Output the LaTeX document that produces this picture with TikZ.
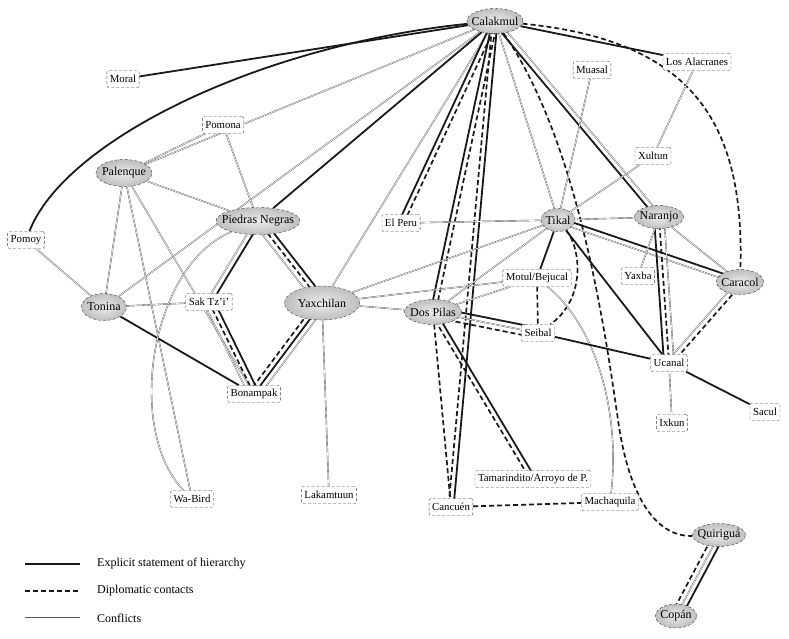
\documentclass[tikz,border=0pt]{standalone}
\usepackage{fontspec}
\setmainfont{Liberation Serif}
\usetikzlibrary{calc,backgrounds,shapes.geometric}
\newcommand{\pedge}[4]{\draw[#1] ($(#2)!#4!90:(#3)$) -- ($(#3)!#4!-90:(#2)$);}
\begin{document}
\begin{tikzpicture}[x=1pt,y=-1pt,
 major/.style={ellipse, draw=gray!50!black, densely dashed, line width=0.4pt, inner color=gray!15, outer color=gray!50, inner sep=0pt},
 majl/.style={font=\fontsize{12}{13}\selectfont, text=black, inner sep=0pt},
 minor/.style={rectangle, rounded corners=2pt, draw=gray!50!black, densely dashed, line width=0.4pt, fill=white, inner xsep=3pt, inner ysep=1pt, minimum height=17pt, font=\fontsize{10.8}{12}\selectfont, text=black},
 hier/.style={line width=1.8pt, draw=black!90},
 dipl/.style={line width=1.7pt, draw=black!90, dash pattern=on 5pt off 3pt},
 confl/.style={line width=0.4pt, draw=gray!70!black, double=white, double distance=0.6pt},
 legt/.style={font=\fontsize{12}{14}\selectfont, text=black, anchor=west, inner sep=0pt},
]
\useasboundingbox (0,0) rectangle (789,639);
% major polities
\node[major, minimum width=56pt, minimum height=25pt, label={[majl]center:Calakmul}] (cal) at (495,21) {};
\node[major, minimum width=56pt, minimum height=27pt, label={[majl]center:Palenque}] (pal) at (124,173) {};
\node[major, minimum width=84pt, minimum height=27pt, label={[majl]center:Piedras Negras}] (pn) at (258,221) {};
\node[major, minimum width=45pt, minimum height=27pt, label={[majl]center:Tonina}] (ton) at (104,307) {};
\node[major, minimum width=75pt, minimum height=34pt, label={[majl]center:Yaxchilan}] (yax) at (322,303) {};
\node[major, minimum width=34pt, minimum height=23pt, label={[majl]center:Tikal}] (tik) at (558,220) {};
\node[major, minimum width=49pt, minimum height=23pt, label={[majl]center:Naranjo}] (nar) at (659,217) {};
\node[major, minimum width=47pt, minimum height=25pt, label={[majl]center:Caracol}] (car) at (740,282) {};
\node[major, minimum width=57pt, minimum height=25pt, label={[majl]center:Dos Pilas}] (dp) at (433,312) {};
\node[major, minimum width=53pt, minimum height=23pt, label={[majl]center:Quiriguá}] (qui) at (719,535) {};
\node[major, minimum width=41pt, minimum height=24pt, label={[majl]center:Copán}] (cop) at (676,616) {};
% minor polities
\node[minor] (moral) at (123,79) {Moral};
\node[minor] (pom) at (223,125) {Pomona};
\node[minor] (pomoy) at (26,240) {Pomoy};
\node[minor] (sak) at (209,302) {Sak Tz'i'};
\node[minor] (bon) at (254,394) {Bonampak};
\node[minor] (wab) at (192,499) {Wa-Bird};
\node[minor] (lak) at (329,495) {Lakamtuun};
\node[minor] (elp) at (401,223) {El Peru};
\node[minor] (mot) at (537,278) {Motul/Bejucal};
\node[minor] (sei) at (538,333) {Seibal};
\node[minor] (uca) at (669,363) {Ucanal};
\node[minor] (yxb) at (638,276) {Yaxba};
\node[minor] (sac) at (765,412) {Sacul};
\node[minor] (ixk) at (672,423) {Ixkun};
\node[minor] (mua) at (592,70) {Muasal};
\node[minor] (alac) at (697,62) {Los Alacranes};
\node[minor] (xul) at (653,156) {Xultun};
\node[minor] (tam) at (533,479) {Tamarindito/Arroyo de P.};
\node[minor] (canc) at (451,507) {Cancuén};
\node[minor] (mach) at (610,502) {Machaquila};
% legend
\coordinate (lg1a) at (25,564); \coordinate (lg1b) at (80,564);
\coordinate (lg2a) at (25,591); \coordinate (lg2b) at (80,591);
\coordinate (lg3a) at (25,618); \coordinate (lg3b) at (80,618);
\node[legt] (lgt1) at (97,564) {Explicit statement of hierarchy};
\node[legt] (lgt2) at (97,591) {Diplomatic contacts};
\node[legt] (lgt3) at (97,618) {Conflicts};
\begin{pgfonlayer}{background}
\fill[white] (0,0) rectangle (789,639);
\draw[hier, line width=1.4pt] (lg1a) -- (lg1b);
\draw[dipl, line width=1.4pt] (lg2a) -- (lg2b);
\draw[confl] (lg3a) -- (lg3b);
% Calakmul
\draw[hier] (cal) -- (moral);
\draw[hier] (cal) .. controls (260,45) and (65,140) .. (pomoy);
\draw[confl] (cal) -- (pal);
\draw[confl] (cal) -- (ton);
\draw[hier] (cal) -- (pn);
\draw[confl] (cal) -- (yax);
\pedge{hier}{cal}{elp}{-2.5pt}
\pedge{dipl}{cal}{elp}{2.5pt}
\pedge{hier}{cal}{dp}{-2.5pt}
\pedge{dipl}{cal}{dp}{2.5pt}
\pedge{dipl}{cal}{canc}{-2.5pt}
\pedge{hier}{cal}{canc}{2.5pt}
\draw[confl] (cal) -- (tik);
\draw[dipl] (cal) .. controls (578,140) and (605,330) .. (618,420) .. controls (630,505) and (660,537) .. (qui);
\pedge{hier}{cal}{nar}{-2.5pt}
\pedge{confl}{cal}{nar}{2.5pt}
\draw[hier] (cal) -- (alac);
\draw[dipl] (cal) .. controls (690,40) and (745,120) .. (car);
% west
\draw[confl] (pal) -- (pom);
\draw[confl] (pal) -- (pn);
\draw[confl] (pal) -- (ton);
\draw[confl] (pal) -- (wab);
\draw[confl] (pal) -- (bon);
\draw[confl] (pom) -- (pn);
\draw[confl] (pomoy) -- (ton);
\draw[confl] (ton) -- (sak);
\draw[hier] (ton) -- (bon);
\pedge{hier}{pn}{sak}{2.5pt}
\pedge{confl}{pn}{sak}{-2.5pt}
\pedge{hier}{sak}{bon}{5pt}
\pedge{dipl}{sak}{bon}{0pt}
\pedge{confl}{sak}{bon}{-5pt}
\draw[confl] (pn) .. controls (150,265) and (125,430) .. (wab);
\pedge{hier}{pn}{yax}{5pt}
\pedge{dipl}{pn}{yax}{0pt}
\pedge{confl}{pn}{yax}{-5pt}
\pedge{confl}{yax}{bon}{5pt}
\pedge{hier}{yax}{bon}{0pt}
\pedge{dipl}{yax}{bon}{-5pt}
\draw[confl] (yax) -- (lak);
\draw[confl] (yax) -- (tik);
\draw[confl] (yax) -- (mot);
\draw[confl] (yax) -- (dp);
% east
\draw[confl] (elp) -- (tik);
\draw[confl] (tik) -- (nar);
\draw[confl] (tik) -- (xul);
\draw[confl] (tik) -- (mua);
\draw[confl] (xul) -- (alac);
\pedge{hier}{tik}{car}{2.5pt}
\pedge{confl}{tik}{car}{-2.5pt}
\draw[hier] (tik) -- (uca);
\draw[hier] (tik) -- (mot);
\draw[dipl] (tik) .. controls (582,250) and (585,300) .. (sei);
\draw[confl] (tik) -- (dp);
\draw[confl] (dp) -- (mot);
\pedge{hier}{dp}{sei}{5pt}
\pedge{confl}{dp}{sei}{0pt}
\pedge{dipl}{dp}{sei}{-5pt}
\pedge{hier}{dp}{tam}{2.5pt}
\pedge{dipl}{dp}{tam}{-2.5pt}
\draw[dipl] (dp) -- (canc);
\draw[dipl] (mot) -- (sei);
\draw[confl] (mot) .. controls (600,330) and (620,420) .. (mach);
\draw[hier] (sei) -- (uca);
\pedge{confl}{nar}{uca}{5pt}
\pedge{dipl}{nar}{uca}{0pt}
\pedge{hier}{nar}{uca}{-5pt}
\draw[confl] (nar) -- (yxb);
\draw[confl] (nar) -- (car);
\pedge{confl}{uca}{car}{2.5pt}
\pedge{dipl}{uca}{car}{-2.5pt}
\draw[hier] (uca) -- (sac);
\draw[confl] (uca) -- (ixk);
\draw[dipl] (canc) -- (mach);
\pedge{hier}{qui}{cop}{5pt}
\pedge{confl}{qui}{cop}{0pt}
\pedge{dipl}{qui}{cop}{-5pt}
\end{pgfonlayer}
\end{tikzpicture}
\end{document}
